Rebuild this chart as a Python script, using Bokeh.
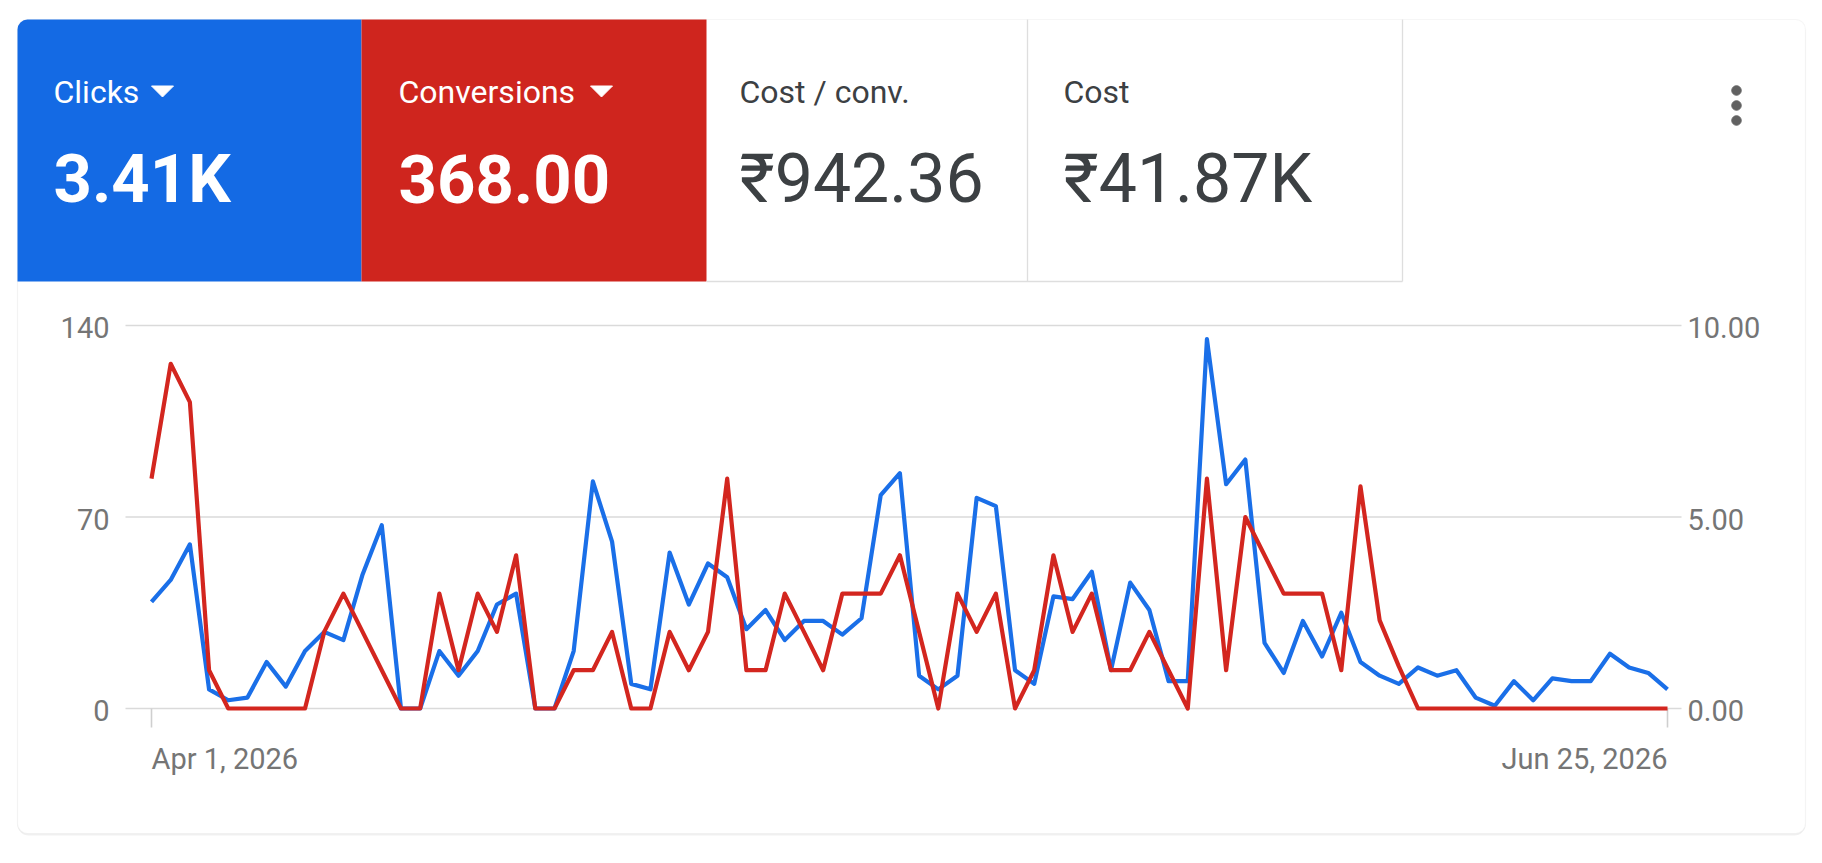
from bokeh.plotting import figure
from bokeh.models import Range1d, BoxAnnotation
from bokeh.embed import file_html
from bokeh.resources import INLINE
from bokeh.core.properties import value

# ---------------- data ----------------
days = list(range(80))
clicks = [39, 47, 60, 7, 3, 4, 17, 8, 21, 28, 25, 49, 67,
          0, 0, 21, 12, 21, 38, 42, 0, 0, 21, 83, 61, 9, 7,
          57, 38, 53, 48, 29, 36, 25, 32, 32, 27, 33, 78, 86, 12, 7,
          12, 77, 74, 14, 9, 41, 40, 50, 14, 46, 36, 10, 10, 135,
          82, 91, 24, 13, 32, 19, 35, 17, 12, 9, 15, 12, 14, 4,
          1, 10, 3, 11, 10, 10, 20, 15, 13, 7]
conversions = [6, 9, 8, 1, 0, 0, 0, 0, 0, 2, 3, 2, 1,
               0, 0, 3, 1, 3, 2, 4, 0, 0, 1, 1, 2, 0, 0,
               2, 1, 2, 6, 1, 1, 3, 2, 1, 3, 3, 3, 4, 2, 0,
               3, 2, 3, 0, 1, 4, 2, 3, 1, 1, 2, 1, 0, 6,
               1, 5, 4, 3, 3, 3, 1, 5.8, 2.3, 1.1, 0,
               0, 0, 0, 0, 0, 0, 0, 0, 0, 0, 0, 0, 0]
x_tick_labels = ["Apr 1, 2026", "Jun 25, 2026"]
left_ticks = [0, 70, 140]
left_tick_labels = ["0", "70", "140"]
right_ticks = [0, 5, 10]
right_tick_labels = ["0.00", "5.00", "10.00"]
metric_names = ["Clicks", "Conversions", "Cost / conv.", "Cost"]
metric_values = ["3.41K", "368.00", "\u20b9942.36", "\u20b941.87K"]

# ---------------- style / layout ----------------
BLUE_TILE = "#146ae4"
RED_TILE = "#cf251e"
BLUE_LINE = "#1a6fe8"
RED_LINE = "#d3261f"
DARK = "#3c4043"
AXIS_TXT = "#757575"
GRID = "#dadada"
FONT = value("Roboto")

W, H = 1816, 856
OX, OY = 0, 0                       # page offset of the canvas
CARD_L, CARD_R, CARD_T, CARD_B = 17, 1805, 19, 833
TILE_EDGES = [17, 361, 706, 1027, 1402]
TILE_B = 281
X0, X1 = 151, 1667                  # first / last day in page px
Y0, YTOP = 708, 325                 # value 0 / max tick in page px
GRID_L, GRID_R = 125, 1681

p = figure(width=W, height=H,
           x_range=Range1d(OX, OX + W), y_range=Range1d(OY + H, OY),
           x_axis_type=None, y_axis_type=None,
           toolbar_location=None, output_backend="svg",
           min_border=0, outline_line_color=None,
           background_fill_color="white", border_fill_color="white")

ppd = (X1 - X0) / (days[-1] - days[0])
ppc = (Y0 - YTOP) / (left_ticks[-1] - left_ticks[0])
ppv = (Y0 - YTOP) / (right_ticks[-1] - right_ticks[0])
p.extra_x_ranges = {
    "days": Range1d(days[0] - (X0 - OX) / ppd, days[-1] + (OX + W - X1) / ppd)}
p.extra_y_ranges = {
    "clicks": Range1d(left_ticks[0] - (OY + H - Y0) / ppc,
                      left_ticks[-1] + (YTOP - OY) / ppc),
    "conv": Range1d(right_ticks[0] - (OY + H - Y0) / ppv,
                    right_ticks[-1] + (YTOP - OY) / ppv),
}

# card (shadow + body)
p.add_layout(BoxAnnotation(left=CARD_L, right=CARD_R, top=CARD_T + 2, bottom=CARD_B + 2,
                           fill_color="black", fill_alpha=0.06, line_color=None,
                           border_radius=11, level="underlay"))
p.add_layout(BoxAnnotation(left=CARD_L, right=CARD_R, top=CARD_T, bottom=CARD_B,
                           fill_color="white", fill_alpha=1, line_color="#e1e1e1",
                           line_width=1.2, border_radius=10, level="underlay"))
# coloured tiles
p.add_layout(BoxAnnotation(left=TILE_EDGES[0], right=TILE_EDGES[1], top=CARD_T, bottom=TILE_B,
                           fill_color=BLUE_TILE, fill_alpha=1, line_color=None,
                           border_radius=(10, 0, 0, 0), level="underlay"))
p.add_layout(BoxAnnotation(left=TILE_EDGES[1], right=TILE_EDGES[2], top=CARD_T, bottom=TILE_B,
                           fill_color=RED_TILE, fill_alpha=1, line_color=None,
                           level="underlay"))
# white tile borders
p.segment(x0=[TILE_EDGES[3], TILE_EDGES[4], TILE_EDGES[2]],
          x1=[TILE_EDGES[3], TILE_EDGES[4], TILE_EDGES[4]],
          y0=[CARD_T, CARD_T, TILE_B], y1=[TILE_B, TILE_B, TILE_B],
          line_color="#dedede", line_width=1.3)

# header texts (y = visual centre)
name_x = [53, 398, 739, 1063]
p.text(x=name_x, y=[91] * 4, text=metric_names,
       text_color=["white", "white", DARK, DARK], text_font=FONT,
       text_font_size="32px", text_baseline="middle", text_align="left")
p.text(x=name_x[:2], y=[178] * 2, text=metric_values[:2], text_color="white",
       text_font=FONT, text_font_size="67px", text_font_style="bold",
       text_baseline="middle", text_align="left")
p.text(x=name_x[2:], y=[178] * 2, text=metric_values[2:], text_color=DARK,
       text_font=FONT, text_font_size="68px",
       text_baseline="middle", text_align="left")
# dropdown triangles
tri_cx, tri_cy, tw, th = [162, 601], 91, 11, 5.5
p.patches(xs=[[c - tw, c + tw, c] for c in tri_cx],
          ys=[[tri_cy - th, tri_cy - th, tri_cy + th] for _ in tri_cx],
          fill_color="white", line_color="white", line_width=1)
# kebab menu
p.scatter(x=[1736] * 3, y=[90, 105, 120], size=9.5, color="#616161")

# ---------------- chart ----------------
p.segment(x0=GRID_L, x1=GRID_R, y0=left_ticks, y1=left_ticks,
          y_range_name="clicks", line_color=GRID, line_width=1.6)
p.segment(x0=[days[0], days[-1]], x1=[days[0], days[-1]], y0=Y0, y1=Y0 + 19,
          x_range_name="days", line_color="#cfcfcf", line_width=1.6)

p.text(x=109, y=left_ticks, text=left_tick_labels, y_range_name="clicks",
       text_align="right", text_baseline="middle", y_offset=2,
       text_font=FONT, text_font_size="29px", text_color=AXIS_TXT)
p.text(x=1687, y=right_ticks, text=right_tick_labels, y_range_name="conv",
       text_align="left", text_baseline="middle", y_offset=2,
       text_font=FONT, text_font_size="29px", text_color=AXIS_TXT)
p.text(x=[days[0]], y=[758], text=[x_tick_labels[0]], x_range_name="days",
       text_align="left", text_baseline="middle",
       text_font=FONT, text_font_size="29px", text_color=AXIS_TXT)
p.text(x=[days[-1]], y=[758], text=[x_tick_labels[1]], x_range_name="days",
       text_align="right", text_baseline="middle",
       text_font=FONT, text_font_size="29px", text_color=AXIS_TXT)

p.line(days, clicks, x_range_name="days", y_range_name="clicks",
       line_color=BLUE_LINE, line_width=4.2, line_join="round")
p.line(days, conversions, x_range_name="days", y_range_name="conv",
       line_color=RED_LINE, line_width=4.2, line_join="round")

open("out.html", "w").write(file_html(p, INLINE, "Clicks and conversions"))
